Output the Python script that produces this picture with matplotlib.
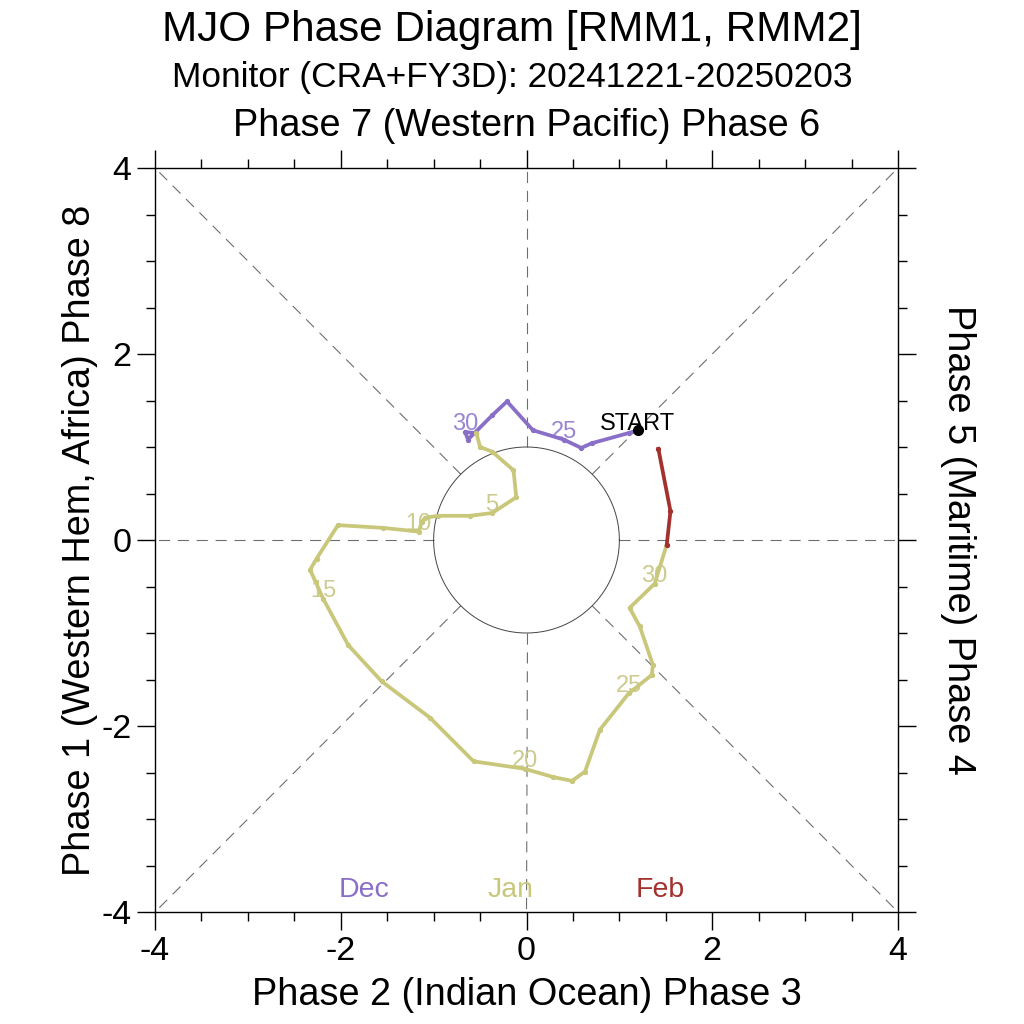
import matplotlib.pyplot as plt
import numpy as np

plt.rcParams['font.family'] = ['Liberation Sans', 'DejaVu Sans']
plt.rcParams['axes.unicode_minus'] = False

# ── data (RMM1, RMM2) ────────────────────────────
dec_days = list(range(21, 32))
dec_rmm1 = [1.20, 1.10, 0.70, 0.59, 0.40, 0.07, -0.21, -0.37, -0.63, -0.66, -0.54]
dec_rmm2 = [1.18, 1.15, 1.04, 0.99, 1.08, 1.18, 1.49, 1.34, 1.08, 1.16, 1.15]

jan_days = list(range(1, 32))
jan_rmm1 = [-0.50, -0.37, -0.14, -0.11, -0.37, -0.61, -0.95, -1.09, -1.13, -1.16,
            -1.54, -2.03, -2.26, -2.33, -2.19, -1.92, -1.56, -1.04, -0.57, -0.02,
            0.29, 0.49, 0.63, 0.79, 1.10, 1.35, 1.36, 1.22, 1.11, 1.38, 1.51]
jan_rmm2 = [1.00, 0.95, 0.75, 0.46, 0.29, 0.26, 0.26, 0.24, 0.19, 0.09,
            0.13, 0.16, -0.20, -0.32, -0.63, -1.13, -1.52, -1.91, -2.38, -2.46,
            -2.55, -2.59, -2.49, -2.04, -1.65, -1.45, -1.34, -0.93, -0.73, -0.47, -0.05]

feb_days = [1, 2]
feb_rmm1 = [1.55, 1.42]
feb_rmm2 = [0.31, 0.98]

months = ['Dec', 'Jan', 'Feb']
line_colors = ['#8a6fc8', '#c8c77a', '#a3322f']
label_colors = ['#9a85d2', '#cccb8e', '#a3322f']

fig = plt.figure(figsize=(10.24, 10.24), dpi=100, facecolor='white')
ax = fig.add_axes([155/1024, 1 - 912/1024, 743/1024, 744/1024])
ax.set_xlim(-4, 4)
ax.set_ylim(-4, 4)

# phase dividers and unit circle
dash = (0, (10, 7))
for ang in np.arange(0, 360, 45):
    a = np.deg2rad(ang)
    r_end = 4 / max(abs(np.cos(a)), abs(np.sin(a)))
    ax.plot([np.cos(a), r_end*np.cos(a)], [np.sin(a), r_end*np.sin(a)],
            color='#6e6e6e', lw=0.8, linestyle=dash, zorder=1)
t = np.linspace(0, 2*np.pi, 400)
ax.plot(np.cos(t), np.sin(t), color='#444444', lw=0.7, zorder=1)

# tracks; each month starts from the previous month's last day
tracks = [(dec_days, dec_rmm1, dec_rmm2),
          (jan_days, jan_rmm1, jan_rmm2),
          (feb_days, feb_rmm1, feb_rmm2)]
prev = None
for (days, x, y), lc, tc in zip(tracks, line_colors, label_colors):
    xs, ys = list(x), list(y)
    if prev is not None:
        xs = [prev[0]] + xs
        ys = [prev[1]] + ys
    ax.plot(xs, ys, color=lc, lw=2.7, marker='o', markersize=2.8,
            solid_joinstyle='round', zorder=3)
    for d, xi, yi in zip(days, x, y):
        if d % 5 == 0:
            ax.annotate(str(d), (xi, yi), xytext=(0, 5.5), textcoords='offset points',
                        ha='center', va='center', fontsize=17, color=tc, zorder=2)
    prev = (x[-1], y[-1])

ax.plot(dec_rmm1[0], dec_rmm2[0], 'o', color='black', markersize=7, zorder=4)
ax.annotate('START', (dec_rmm1[0], dec_rmm2[0]), xytext=(0, 0.5), textcoords='offset points',
            ha='center', va='baseline', fontsize=17, color='black', zorder=5)

for m, c, fx in zip(months, line_colors, [0.281, 0.479, 0.680]):
    ax.text(fx, 0.030, m, transform=ax.transAxes, ha='center', va='center',
            fontsize=20.5, color=c)

# ticks and frame
ax.set_xticks([-4, -2, 0, 2, 4])
ax.set_yticks([-4, -2, 0, 2, 4])
ax.set_xticks(np.arange(-4, 4.01, 0.5), minor=True)
ax.set_yticks(np.arange(-4, 4.01, 0.5), minor=True)
ax.tick_params(which='both', direction='out', top=True, right=True,
               labeltop=False, labelright=False, width=1.0, color='black')
ax.tick_params(which='major', length=13, labelsize=24.5, pad=4)
ax.tick_params(which='minor', length=6.5)
for s in ax.spines.values():
    s.set_linewidth(1.0)

ax.text(0.5, -0.1116, 'Phase 2 (Indian Ocean) Phase 3', transform=ax.transAxes,
        ha='center', va='center', fontsize=27.3)
ax.text(-0.101, 0.5, 'Phase 1 (Western Hem, Africa) Phase 8', transform=ax.transAxes,
        rotation=90, ha='center', va='center', fontsize=27.3)
ax.text(1.081, 0.5, 'Phase 5 (Maritime) Phase 4', transform=ax.transAxes,
        rotation=-90, ha='center', va='center', fontsize=27.3)
ax.text(0.5, 1.056, 'Phase 7 (Western Pacific) Phase 6', transform=ax.transAxes,
        ha='center', va='center', fontsize=27.3)

fig.text(0.5, 1 - 30/1024, 'MJO Phase Diagram [RMM1, RMM2]', ha='center', va='center', fontsize=30.4)
fig.text(0.5, 1 - 78/1024, 'Monitor (CRA+FY3D): 20241221-20250203', ha='center', va='center', fontsize=25.4)

fig.savefig('out.png', dpi=100, facecolor='white')
